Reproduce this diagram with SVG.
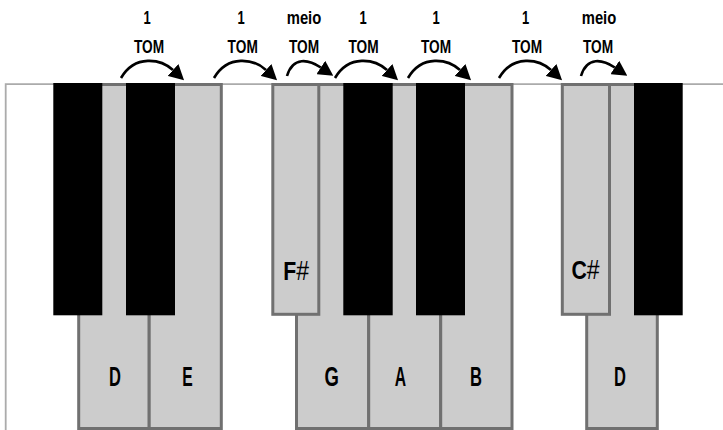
<svg xmlns="http://www.w3.org/2000/svg" width="723" height="430" viewBox="0 0 723 430">
  <style>
    .frame { fill: none; stroke: #ababab; stroke-width: 1.8; }
    .white { fill: #cccccc; stroke: #707070; stroke-width: 3; }
    .black { fill: #000000; }
    .arc { fill: none; stroke: #000000; stroke-width: 2.6; marker-end: url(#head); }
    .step { font-family: "Liberation Sans", Arial, sans-serif; font-weight: bold; font-size: 18.5px; fill: #000; text-anchor: middle; }
    .note { font-family: "Liberation Sans", Arial, sans-serif; font-weight: bold; font-size: 28px; fill: #000; text-anchor: middle; }
    .sharp-note { font-family: "Liberation Sans", Arial, sans-serif; font-weight: bold; font-size: 25px; fill: #000; text-anchor: middle; }
    .sharp { font-weight: normal; }
  </style>
  <defs>
    <marker id="head" viewBox="0 -8 15 16" refX="0" refY="0" markerWidth="15" markerHeight="16" markerUnits="userSpaceOnUse" orient="auto">
      <path d="M0,-8 L15,0 L0,8 Z" fill="#000"/>
    </marker>
  </defs>

  <rect width="723" height="430" fill="#ffffff"/>

  <!-- keyboard outline -->
  <path class="frame" d="M5.7,430 V84.2 H723"/>

  <!-- natural keys -->
  <g id="key-d">
    <rect class="white" x="78.7" y="84.5" width="70.5" height="344"/>
    <text class="note" transform="translate(115,386) scale(0.59,1)">D</text>
  </g>
  <g id="key-e">
    <rect class="white" x="149.2" y="84.5" width="72.1" height="344"/>
    <text class="note" transform="translate(187.5,386) scale(0.56,1)">E</text>
  </g>
  <g id="key-g">
    <rect class="white" x="296.5" y="84.5" width="72.2" height="344"/>
    <text class="note" transform="translate(331.7,386) scale(0.66,1)">G</text>
  </g>
  <g id="key-a">
    <rect class="white" x="368.7" y="84.5" width="72" height="344"/>
    <text class="note" transform="translate(400.5,386) scale(0.56,1)">A</text>
  </g>
  <g id="key-b">
    <rect class="white" x="440.7" y="84.5" width="71.3" height="344"/>
    <text class="note" transform="translate(476,386) scale(0.59,1)">B</text>
  </g>
  <g id="key-d2">
    <rect class="white" x="586.7" y="84.5" width="70.6" height="344"/>
    <text class="note" transform="translate(620,386) scale(0.59,1)">D</text>
  </g>

  <!-- sharps used in the scale -->
  <g id="key-fsharp">
    <rect class="white" x="272.8" y="84.5" width="46" height="229.8"/>
    <text class="sharp-note" transform="translate(296.2,280) scale(0.85,1)">F<tspan class="sharp" font-size="27px">#</tspan></text>
  </g>
  <g id="key-csharp">
    <rect class="white" x="562.3" y="84.5" width="47.2" height="229.8"/>
    <text class="sharp-note" transform="translate(585.5,279) scale(0.85,1)">C<tspan class="sharp" font-size="27px">#</tspan></text>
  </g>

  <!-- other black keys -->
  <g id="black-keys">
    <rect class="black" x="53.3" y="83" width="49" height="232.3"/>
    <rect class="black" x="126" y="83" width="49" height="232.3"/>
    <rect class="black" x="343.3" y="83" width="49.4" height="232.3"/>
    <rect class="black" x="416" y="83" width="49" height="232.3"/>
    <rect class="black" x="634" y="83" width="48.7" height="232.3"/>
  </g>

  <!-- step arrows -->
  <g id="connectors">
    <path class="arc" d="M121,78 c14,-24 40,-19 52,-8"/>
    <path class="arc" d="M214,78 c14,-24 40,-19 52,-8"/>
    <path class="arc" d="M287,76 c6,-20 21.8,-16.5 33.8,-8.5"/>
    <path class="arc" d="M335,78 c14,-24 40,-19 52,-8"/>
    <path class="arc" d="M408,78 c14,-24 40,-19 52,-8"/>
    <path class="arc" d="M499,78 c14,-24 40,-19 52,-8"/>
    <path class="arc" d="M581,76 c6,-20 21.8,-16.5 33.8,-8.5"/>
  </g>

  <!-- step labels -->
  <g id="step-1">
    <text class="step" transform="translate(147,24) scale(0.7,1)">1</text>
    <text class="step" transform="translate(149,52.7) scale(0.74,1)">TOM</text>
  </g>
  <g id="step-2">
    <text class="step" transform="translate(241,24) scale(0.7,1)">1</text>
    <text class="step" transform="translate(242.7,52.7) scale(0.74,1)">TOM</text>
  </g>
  <g id="step-3">
    <text class="step" transform="translate(304,24) scale(0.8,1)">meio</text>
    <text class="step" transform="translate(304,52.7) scale(0.74,1)">TOM</text>
  </g>
  <g id="step-4">
    <text class="step" transform="translate(363,24) scale(0.7,1)">1</text>
    <text class="step" transform="translate(363.5,52.7) scale(0.74,1)">TOM</text>
  </g>
  <g id="step-5">
    <text class="step" transform="translate(436,24) scale(0.7,1)">1</text>
    <text class="step" transform="translate(436,52.7) scale(0.74,1)">TOM</text>
  </g>
  <g id="step-6">
    <text class="step" transform="translate(525.7,24) scale(0.7,1)">1</text>
    <text class="step" transform="translate(527,52.7) scale(0.74,1)">TOM</text>
  </g>
  <g id="step-7">
    <text class="step" transform="translate(599,24) scale(0.8,1)">meio</text>
    <text class="step" transform="translate(598,52.7) scale(0.74,1)">TOM</text>
  </g>
</svg>
